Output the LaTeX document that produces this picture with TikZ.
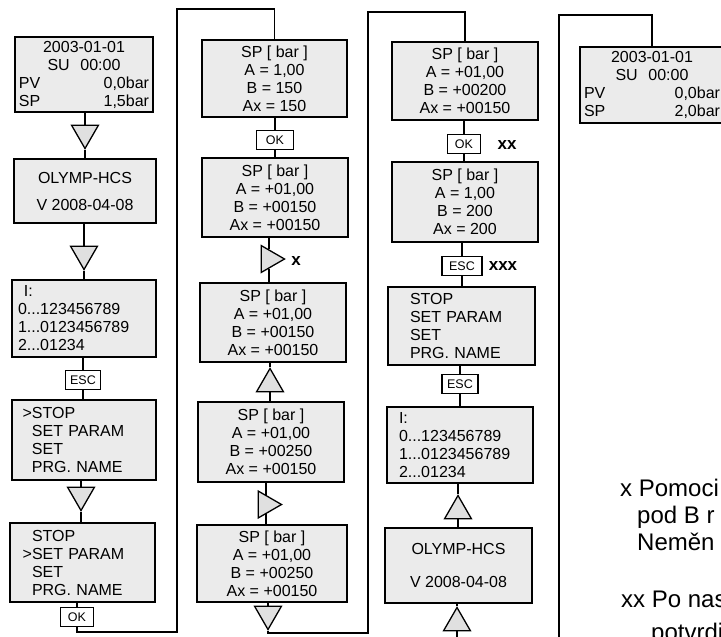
\documentclass[tikz,border=0pt]{standalone}
\usepackage{fontspec}
\setmainfont{Liberation Sans}
\usetikzlibrary{shapes.geometric}
\definecolor{scrfill}{gray}{0.92}
\definecolor{trifill}{gray}{0.88}
\newcommand\scrfont{\fontsize{16}{18}\selectfont}
\newcommand\keyfont{\fontsize{12.5}{13}\selectfont}
\begin{document}
\begin{tikzpicture}[x=1pt,y=-1pt,
  scr/.style={draw, line width=1.5pt, fill=scrfill, inner xsep=4pt, inner ysep=0pt, font=\scrfont},
  scrc/.style={scr, align=center},
  scrl/.style={scr, align=left},
  keybox/.style={draw, line width=1.5pt, fill=white, inner sep=0pt, font=\keyfont, minimum width=#1, minimum height=19pt},
  tri/.style={draw, line width=1.3pt, fill=trifill, regular polygon, regular polygon sides=3, minimum size=31pt, inner sep=0pt},
  tdown/.style={tri, shape border rotate=180},
  tright/.style={tri, shape border rotate=-90},
  conn/.style={line width=1.3pt},
  lbl/.style={font=\bfseries\fontsize{17}{17}\selectfont, inner sep=0pt},
  note/.style={font=\fontsize{24}{27}\selectfont, inner sep=0pt, anchor=base west}
]
\clip (0,0) rectangle (721,637);

% column 1
\node[scrl, text width=130pt, minimum height=75pt] (b1) at (84,74.5)
  {\hfill 2003-01-01\hfill\null\\\hfill SU~~00:00\hfill\null\\PV\hfill 0,0bar\\SP\hfill 1,5bar};
\node[tdown] (t1) at (85,133) {};
\node[scrc, minimum width=142pt, minimum height=64pt] (b2) at (85,191) {OLYMP-HCS\\[9pt]V 2008-04-08};
\node[tdown] (t2) at (84,254) {};
\node[scrl, text width=136pt, minimum height=77pt] (b3) at (84,318.5)
  {\hspace*{8pt}I:\\\hspace*{2pt}0...123456789\\\hspace*{2pt}1...0123456789\\\hspace*{2pt}2...01234};
\node[keybox=35pt] (esc1) at (83,380) {ESC};
\node[scrl, text width=136pt, minimum height=80pt] (b4) at (84,440)
  {\hspace*{16pt}\llap{>}STOP\\\hspace*{16pt}SET PARAM\\\hspace*{16pt}SET\\\hspace*{16pt}PRG. NAME};
\node[tdown] (t3) at (81,495) {};
\node[scrl, text width=137pt, minimum height=79pt] (b5) at (82.5,562.5)
  {\hspace*{18pt}STOP\\\hspace*{18pt}\llap{>}SET PARAM\\\hspace*{18pt}SET\\\hspace*{18pt}PRG. NAME};
\node[keybox=33pt] (ok1) at (77,617) {OK};

% column 2
\node[scrc, minimum width=145pt, minimum height=77pt] (b6) at (274.5,78.5) {SP [ bar ]\\A = 1,00\\B = 150\\Ax = 150};
\node[keybox=37pt] (ok2) at (275,140) {OK};
\node[scrc, minimum width=146pt, minimum height=79pt] (b7) at (275,197.5) {SP [ bar ]\\A = +01,00\\B = +00150\\Ax = +00150};
\node[tright] (t4) at (269,259) {};
\node[lbl] (lx) at (296,261) {x};
\node[scrc, minimum width=146pt, minimum height=79pt] (b8) at (273,322.5) {SP [ bar ]\\A = +01,00\\B = +00150\\Ax = +00150};
\node[tri] (t5) at (270,384) {};
\node[scrc, minimum width=146pt, minimum height=80pt] (b9) at (271,442) {SP [ bar ]\\A = +01,00\\B = +00250\\Ax = +00150};
\node[tright] (t6) at (266,504.5) {};
\node[scrc, minimum width=150pt, minimum height=77pt] (b10) at (272,563.5) {SP [ bar ]\\A = +01,00\\B = +00250\\Ax = +00150};
\node[tdown] (t7) at (268,614) {};

% column 3
\node[scrc, minimum width=146pt, minimum height=78pt] (b11) at (465,81) {SP [ bar ]\\A = +01,00\\B = +00200\\Ax = +00150};
\node[keybox=33pt] (ok3) at (464,144) {OK};
\node[lbl] (lxx) at (507,145) {xx};
\node[scrc, minimum width=146pt, minimum height=80pt] (b12) at (465,202) {SP [ bar ]\\A = 1,00\\B = 200\\Ax = 200};
\node[keybox=40pt] (esc2) at (462,266) {ESC};
\node[lbl] (lxxx) at (503,266) {xxx};
\node[scrl, text width=139pt, minimum height=78pt] (b13) at (461.5,326)
  {\hspace*{18pt}STOP\\\hspace*{18pt}SET PARAM\\\hspace*{18pt}SET\\\hspace*{18pt}PRG. NAME};
\node[keybox=36pt] (esc3) at (460,384) {ESC};
\node[scrl, text width=138pt, minimum height=76pt] (b14) at (460,445)
  {\hspace*{8pt}I:\\\hspace*{8pt}0...123456789\\\hspace*{8pt}1...0123456789\\\hspace*{8pt}2...01234};
\node[tri] (t8) at (458,511) {};
\node[scrc, minimum width=147pt, minimum height=75pt] (b15) at (458.5,565.5) {OLYMP-HCS\\[15pt]V 2008-04-08};
\node[tri] (t9) at (457,623) {};

% column 4
\node[scrl, text width=136pt, minimum height=76pt] (b16) at (652,85)
  {\hfill 2003-01-01\hfill\null\\\hfill SU~~00:00\hfill\null\\PV\hfill 0,0bar\\SP\hfill 2,0bar};

% notes
\node[note] (n1) at (620,496) {x Pomoci};
\node[note] (n2) at (637,523) {pod B r};
\node[note] (n3) at (637,550) {Neměn};
\node[note] (n4) at (621,607) {xx Po nas};
\node[note] (n5) at (651,640) {potvrdit};

% return coordinates
\coordinate (ra) at (177,632);
\coordinate (rb) at (274.5,9);
\coordinate (rc) at (368,633);
\coordinate (rd) at (465,12);
\coordinate (re) at (559,650);
\coordinate (rf) at (652,15);

% connectors column 1
\draw[conn] (t1 |- b1.south) -- (t1) -- (t1 |- b2.north);
\draw[conn] (t2 |- b2.south) -- (t2) -- (t2 |- b3.north);
\draw[conn] (esc1 |- b3.south) -- (esc1) -- (esc1 |- b4.north);
\draw[conn] (t3 |- b4.south) -- (t3) -- (t3 |- b5.north);
\draw[conn] (ok1 |- b5.south) -- (ok1) |- (ra) |- (rb) -- (b6);
% column 2
\draw[conn] (ok2 |- b6.south) -- (ok2) -- (ok2 |- b7.north);
\draw[conn] (t4 |- b7.south) -- (t4) -- (t4 |- b8.north);
\draw[conn] (t5 |- b8.south) -- (t5) -- (t5 |- b9.north);
\draw[conn] (t6 |- b9.south) -- (t6) -- (t6 |- b10.north);
\draw[conn] (t7 |- b10.south) -- (t7) |- (rc) |- (rd) -- (b11);
% column 3
\draw[conn] (ok3 |- b11.south) -- (ok3) -- (ok3 |- b12.north);
\draw[conn] (esc2 |- b12.south) -- (esc2) -- (esc2 |- b13.north);
\draw[conn] (esc3 |- b13.south) -- (esc3) -- (esc3 |- b14.north);
\draw[conn] (t8 |- b14.south) -- (t8) -- (t8 |- b15.north);
\draw[conn] (t9 |- b15.south) -- (t9) |- (re) |- (rf) -- (b16);
\end{tikzpicture}
\end{document}
